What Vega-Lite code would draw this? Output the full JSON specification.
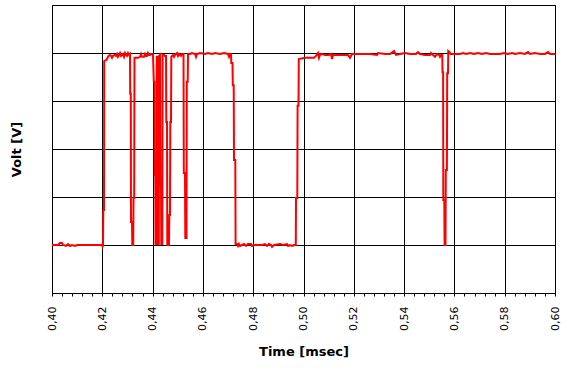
{
  "$schema": "https://vega.github.io/schema/vega-lite/v6.json",
  "width": 503,
  "height": 288,
  "autosize": {"type": "none"},
  "padding": {"left": 52, "top": 5, "right": 17, "bottom": 81},
  "background": "white",
  "config": {
    "view": {"stroke": "black", "strokeWidth": 1},
    "axis": {"domainColor": "black", "tickColor": "black", "gridColor": "black", "gridWidth": 1, "gridOpacity": 1}
  },
  "data": {"values": [
    {"t":0.4,"v":0},{"t":0.40239,"v":0},{"t":0.40318,"v":0.04},{"t":0.40398,"v":0.04},{"t":0.40437,"v":0},{"t":0.40557,"v":-0.02},{"t":0.40636,"v":0.02},{"t":0.40716,"v":-0.02},{"t":0.40795,"v":0},{"t":0.40915,"v":-0.02},{"t":0.40994,"v":0},{"t":0.41312,"v":0},{"t":0.4171,"v":0},{"t":0.41988,"v":0},{"t":0.42008,"v":-0.03},{"t":0.42028,"v":0},
    {"t":0.4204,"v":0.73},{"t":0.42068,"v":0.73},{"t":0.42076,"v":3.83},{"t":0.42147,"v":3.85},{"t":0.42187,"v":3.875},{"t":0.42247,"v":3.94},{"t":0.42306,"v":3.96},{"t":0.42346,"v":3.94},{"t":0.42386,"v":3.9},{"t":0.42425,"v":3.94},{"t":0.42505,"v":3.96},{"t":0.42545,"v":3.94},{"t":0.42584,"v":3.98},{"t":0.42624,"v":3.92},{"t":0.42664,"v":3.96},{"t":0.42704,"v":4.0},{"t":0.42744,"v":3.94},{"t":0.42783,"v":3.96},{"t":0.42823,"v":3.98},{"t":0.42863,"v":3.92},{"t":0.42903,"v":4.0},{"t":0.42942,"v":3.96},{"t":0.42982,"v":3.94},{"t":0.43022,"v":4.0},{"t":0.43062,"v":3.96},{"t":0.43101,"v":3.98},
    {"t":0.43109,"v":3.15},{"t":0.43133,"v":3.15},{"t":0.43141,"v":0.48},{"t":0.43181,"v":0.48},{"t":0.43193,"v":0},{"t":0.43229,"v":0},{"t":0.43241,"v":0.98},{"t":0.43268,"v":0.98},{"t":0.4328,"v":3.9},{"t":0.43419,"v":3.9},{"t":0.43499,"v":3.92},{"t":0.43539,"v":3.98},{"t":0.43579,"v":3.92},{"t":0.43658,"v":3.92},{"t":0.43698,"v":3.98},{"t":0.43738,"v":3.94},{"t":0.43777,"v":3.94},{"t":0.43817,"v":4.0},{"t":0.43857,"v":3.96},{"t":0.43897,"v":3.96},{"t":0.43936,"v":3.98},{"t":0.43976,"v":3.98},{"t":0.44016,"v":3.96},
    {"t":0.44048,"v":3.4},{"t":0.44076,"v":3.4},{"t":0.4408,"v":1.46},{"t":0.44107,"v":1.46},{"t":0.44115,"v":0.02},{"t":0.44155,"v":0.02},{"t":0.44167,"v":3.92},{"t":0.44195,"v":3.92},{"t":0.44207,"v":0.02},{"t":0.44247,"v":0.02},{"t":0.44259,"v":3.94},{"t":0.44294,"v":3.96},{"t":0.4431,"v":1.25},{"t":0.44334,"v":1.25},{"t":0.44346,"v":0.02},{"t":0.44386,"v":0.02},{"t":0.44398,"v":3.96},{"t":0.44453,"v":3.96},{"t":0.44493,"v":3.94},{"t":0.44533,"v":3.94},{"t":0.44545,"v":2.56},{"t":0.44573,"v":2.56},{"t":0.44584,"v":0},{"t":0.44652,"v":0},{"t":0.44664,"v":0.625},{"t":0.44692,"v":0.625},{"t":0.44704,"v":2.56},{"t":0.44732,"v":2.56},{"t":0.44744,"v":3.92},
    {"t":0.44811,"v":3.96},{"t":0.44851,"v":3.92},{"t":0.44891,"v":3.96},{"t":0.4497,"v":4.0},{"t":0.4501,"v":3.94},{"t":0.4505,"v":3.98},{"t":0.45129,"v":3.94},{"t":0.45169,"v":3.98},{"t":0.45229,"v":3.98},
    {"t":0.45241,"v":1.5},{"t":0.45288,"v":1.5},{"t":0.453,"v":0.146},{"t":0.45348,"v":0.146},{"t":0.4536,"v":3.4},{"t":0.45396,"v":3.4},{"t":0.45408,"v":3.98},
    {"t":0.45487,"v":3.98},{"t":0.45567,"v":4.0},{"t":0.45686,"v":3.98},{"t":0.45726,"v":3.92},{"t":0.45765,"v":3.98},{"t":0.45885,"v":4.0},{"t":0.46083,"v":3.98},{"t":0.46203,"v":4.0},{"t":0.46362,"v":3.98},{"t":0.46481,"v":4.0},{"t":0.4668,"v":3.98},{"t":0.46839,"v":4.0},{"t":0.46998,"v":3.98},{"t":0.47038,"v":3.92},{"t":0.47078,"v":3.98},{"t":0.47117,"v":3.98},
    {"t":0.47129,"v":3.79},{"t":0.47177,"v":3.79},{"t":0.47189,"v":3.33},{"t":0.47225,"v":3.33},{"t":0.47237,"v":1.77},{"t":0.47288,"v":1.77},{"t":0.473,"v":0.02},
    {"t":0.47356,"v":0.02},{"t":0.47396,"v":-0.02},{"t":0.47435,"v":0.02},{"t":0.47475,"v":-0.02},{"t":0.47555,"v":0},{"t":0.47634,"v":0.02},{"t":0.47714,"v":-0.02},{"t":0.47793,"v":0.02},{"t":0.47913,"v":0.02},{"t":0.47952,"v":-0.02},{"t":0.48032,"v":0},{"t":0.48191,"v":0},{"t":0.4835,"v":0},{"t":0.48469,"v":0.02},{"t":0.48549,"v":-0.02},{"t":0.48628,"v":0.02},{"t":0.48708,"v":0},{"t":0.48748,"v":-0.04},{"t":0.48827,"v":0},{"t":0.49066,"v":0.02},{"t":0.49185,"v":0},{"t":0.49344,"v":0.02},{"t":0.49384,"v":-0.02},{"t":0.49463,"v":0},{"t":0.49543,"v":-0.02},{"t":0.49622,"v":0},{"t":0.49694,"v":0},
    {"t":0.49702,"v":0.98},{"t":0.49753,"v":0.98},{"t":0.49765,"v":2.9},{"t":0.49801,"v":2.9},{"t":0.49813,"v":3.875},
    {"t":0.5006,"v":3.9},{"t":0.50258,"v":3.9},{"t":0.50417,"v":3.9},{"t":0.50497,"v":3.94},{"t":0.50577,"v":4.0},{"t":0.50616,"v":3.9},{"t":0.50656,"v":3.96},{"t":0.50736,"v":3.98},{"t":0.50855,"v":3.96},{"t":0.51014,"v":3.96},{"t":0.51093,"v":3.98},{"t":0.51133,"v":3.875},{"t":0.51173,"v":3.96},{"t":0.51451,"v":3.96},{"t":0.51769,"v":3.96},{"t":0.51849,"v":3.9},{"t":0.51928,"v":3.98},{"t":0.52247,"v":3.98},{"t":0.52644,"v":3.98},{"t":0.52922,"v":3.96},{"t":0.52962,"v":4.0},{"t":0.53241,"v":3.98},{"t":0.53439,"v":3.98},{"t":0.53598,"v":4.04},{"t":0.53678,"v":3.96},{"t":0.53837,"v":3.98},{"t":0.54036,"v":4.0},{"t":0.54235,"v":3.98},{"t":0.54473,"v":3.98},{"t":0.54553,"v":4.02},{"t":0.54632,"v":3.98},{"t":0.54831,"v":3.96},{"t":0.5503,"v":3.96},{"t":0.5507,"v":4.0},{"t":0.55149,"v":3.96},{"t":0.55229,"v":3.92},{"t":0.55308,"v":3.98},{"t":0.55388,"v":3.96},{"t":0.55427,"v":3.92},{"t":0.55467,"v":3.96},{"t":0.55519,"v":3.96},
    {"t":0.55527,"v":3.6},{"t":0.55551,"v":3.6},{"t":0.55559,"v":0.94},{"t":0.55598,"v":0.94},{"t":0.5561,"v":0},{"t":0.55646,"v":0},{"t":0.55658,"v":1.56},{"t":0.55702,"v":1.56},{"t":0.55714,"v":3.58},{"t":0.55746,"v":3.58},{"t":0.55757,"v":4.04},{"t":0.55805,"v":4.02},{"t":0.55845,"v":3.98},
    {"t":0.56024,"v":3.98},{"t":0.56223,"v":3.98},{"t":0.56342,"v":4.0},{"t":0.56461,"v":3.98},{"t":0.5662,"v":4.0},{"t":0.56779,"v":3.98},{"t":0.56938,"v":4.0},{"t":0.57097,"v":3.98},{"t":0.57256,"v":4.0},{"t":0.57416,"v":3.98},{"t":0.57614,"v":3.98},{"t":0.57813,"v":3.98},{"t":0.57972,"v":4.0},{"t":0.58131,"v":3.98},{"t":0.5829,"v":4.0},{"t":0.5841,"v":3.98},{"t":0.58608,"v":4.0},{"t":0.58807,"v":3.98},{"t":0.58926,"v":4.02},{"t":0.59006,"v":3.98},{"t":0.59205,"v":4.0},{"t":0.59404,"v":3.98},{"t":0.59602,"v":3.98},{"t":0.59722,"v":4.02},{"t":0.59801,"v":3.98},{"t":0.6,"v":3.98}
  ]},
  "mark": {"type": "line", "color": "#ff0000", "strokeWidth": 2, "interpolate": "linear", "clip": true},
  "encoding": {
    "x": {
      "field": "t", "type": "quantitative",
      "scale": {"domain": [0.4, 0.6], "nice": false, "zero": false},
      "axis": {
        "title": "Time [msec]",
        "titleFont": "DejaVu Sans", "titleFontSize": 13, "titleFontWeight": "bold", "titleColor": "black", "titlePadding": 15,
        "values": [0.4,0.404,0.408,0.412,0.416,0.42,0.424,0.428,0.432,0.436,0.44,0.444,0.448,0.452,0.456,0.46,0.464,0.468,0.472,0.476,0.48,0.484,0.488,0.492,0.496,0.5,0.504,0.508,0.512,0.516,0.52,0.524,0.528,0.532,0.536,0.54,0.544,0.548,0.552,0.556,0.56,0.564,0.568,0.572,0.576,0.58,0.584,0.588,0.592,0.596,0.6],
        "labelExpr": "abs(datum.value*50 - round(datum.value*50)) < 0.001 ? replace(format(datum.value, '.2f'), '.', ',') : ''",
        "labelAngle": 270, "labelFont": "DejaVu Sans", "labelFontSize": 11, "labelColor": "black", "labelPadding": 10,
        "labelOverlap": false, "labelFlush": false,
        "tickSize": 3, "tickWidth": 1,
        "grid": true,
        "gridOpacity": {"condition": {"test": "abs(datum.value*50 - round(datum.value*50)) < 0.001", "value": 1}, "value": 0}
      }
    },
    "y": {
      "field": "v", "type": "quantitative",
      "scale": {"domain": [-1, 5], "nice": false, "zero": false},
      "axis": {
        "title": "Volt [V]",
        "titleFont": "DejaVu Sans", "titleFontSize": 13, "titleFontWeight": "bold", "titleColor": "black", "titlePadding": 29,
        "values": [0, 1, 2, 3, 4],
        "labels": false, "ticks": false, "domain": false, "grid": true
      }
    }
  }
}
